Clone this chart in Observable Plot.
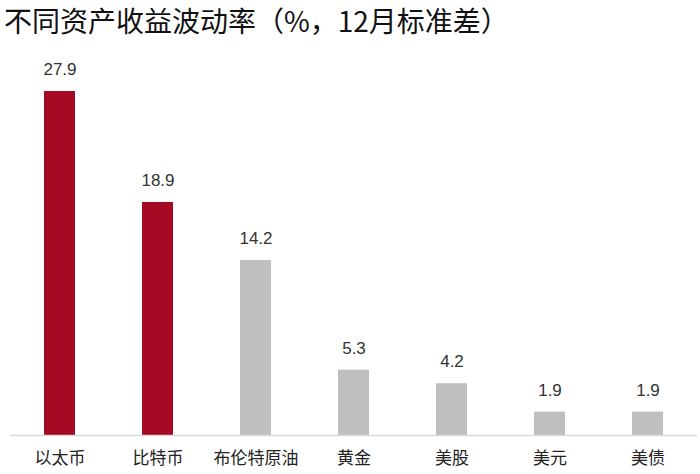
<!DOCTYPE html>
<html><head><meta charset="utf-8">
<script src="https://cdn.jsdelivr.net/npm/d3@7"></script>
<script src="https://cdn.jsdelivr.net/npm/@observablehq/plot@0.6"></script>
<style>
body{margin:0;background:#fff;width:700px;height:474px;overflow:hidden;}
#title{font-family:"Noto Sans CJK SC",sans-serif;font-size:28px;color:#111;height:48px;line-height:40px;padding-left:4px;white-space:nowrap;}
</style></head>
<body>
<div id="title">不同资产收益波动率（%，12月标准差）</div>
<div id="chart"></div>
<script>
const categories = ["以太币","比特币","布伦特原油","黄金","美股","美元","美债"];
const values = [27.9, 18.9, 14.2, 5.3, 4.2, 1.9, 1.9];
const highlight = ["以太币","比特币"];
const data = categories.map((c,i)=>({cat:c, v:values[i]}));
const chart = Plot.plot({
  width:700, height:426,
  marginLeft:10, marginRight:3, marginTop:43, marginBottom:39,
  x:{domain:categories, paddingInner:0.68, paddingOuter:0.34, label:null, tickSize:0, tickPadding:16},
  y:{domain:[0,27.9], axis:null},
  style:{fontFamily:"'Noto Sans CJK SC',sans-serif", fontSize:"17px", color:"#222"},
  marks:[
    Plot.barY(data,{x:"cat", y:"v", fill:d=>highlight.includes(d.cat)?"#A50A24":"#BFBFBF"}),
    Plot.ruleY([0],{stroke:"#D9D9D9", strokeWidth:1.5}),
    Plot.text(data,{x:"cat", y:"v", text:d=>d.v.toFixed(1), dy:-22, fontSize:17, fill:"#333", fontFamily:"'Liberation Sans',Arial,sans-serif"})
  ]
});
document.getElementById("chart").appendChild(chart);
</script>
</body></html>
